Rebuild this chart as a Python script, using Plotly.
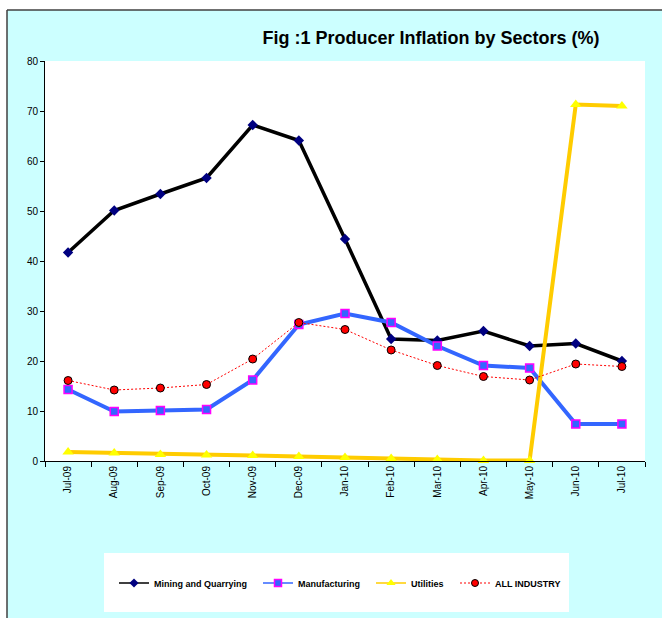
import plotly.graph_objects as go

months = ["Jul-09", "Aug-09", "Sep-09", "Oct-09", "Nov-09", "Dec-09", "Jan-10",
          "Feb-10", "Mar-10", "Apr-10", "May-10", "Jun-10", "Jul-10"]
mining = [41.7, 50.1, 53.4, 56.6, 67.2, 64.1, 44.4, 24.4, 24.1, 26.0, 23.0, 23.5, 20.0]
manufacturing = [14.3, 9.9, 10.1, 10.3, 16.2, 27.3, 29.5, 27.7, 23.0, 19.1, 18.6, 7.4, 7.4]
utilities = [1.8, 1.6, 1.3, 1.2, 1.1, 0.9, 0.7, 0.5, 0.3, 0.1, 0.1, 71.3, 71.0]
all_industry = [16.1, 14.2, 14.6, 15.3, 20.4, 27.7, 26.3, 22.2, 19.1, 16.9, 16.2, 19.4, 18.9]
series_names = ["Mining and Quarrying", "Manufacturing", "Utilities", "ALL INDUSTRY"]
y_ticks = [0, 10, 20, 30, 40, 50, 60, 70, 80]

W, H = 662, 618
L, R, T, B = 45, 17, 61, 157
PW, PH = W - L - R, H - T - B


def px(x):
    return (x - L) / PW


def py(y):
    return (T + PH - y) / PH


styles = [
    dict(line=dict(color="#000000", width=3.5),
         marker=dict(symbol="diamond", color="#000080", size=8, line=dict(width=0))),
    dict(line=dict(color="#3366FF", width=4),
         marker=dict(symbol="square", color="#3366FF", size=8, line=dict(color="#FF00FF", width=1.5))),
    dict(line=dict(color="#FFCC00", width=4),
         marker=dict(symbol="triangle-up", color="#FFFF00", size=10, line=dict(width=0))),
    dict(line=dict(color="#FF0000", width=1, dash="2px,2px"),
         marker=dict(symbol="circle", color="#FF0000", size=8, line=dict(color="#000000", width=1))),
]
legend_styles = [
    dict(line=dict(color="#000000", width=1.5),
         marker=dict(symbol="diamond", color="#000080", size=7, line=dict(width=0))),
    dict(line=dict(color="#3366FF", width=1.5),
         marker=dict(symbol="square", color="#3366FF", size=7, line=dict(color="#FF00FF", width=1.5))),
    dict(line=dict(color="#FFCC00", width=1.5),
         marker=dict(symbol="triangle-up", color="#FFFF00", size=8, line=dict(width=0))),
    dict(line=dict(color="#FF0000", width=1, dash="2px,2px"),
         marker=dict(symbol="circle", color="#FF0000", size=7, line=dict(color="#000000", width=1))),
]
series_values = [mining, manufacturing, utilities, all_industry]
legend_ids = ["legend", "legend2", "legend3", "legend4"]

fig = go.Figure()
for name, vals, st in zip(series_names, series_values, styles):
    fig.add_trace(go.Scatter(x=months, y=vals, name=name, mode="lines+markers",
                             showlegend=False, cliponaxis=False, **st))
for name, lid, st in zip(series_names, legend_ids, legend_styles):
    fig.add_trace(go.Scatter(x=[None], y=[None], name="<b>%s</b>" % name, mode="lines+markers",
                             showlegend=True, legend=lid, **st))

shapes = [
    dict(type="rect", xref="paper", yref="paper", x0=-1, x1=2, y0=py(10), y1=2,
         fillcolor="white", line=dict(width=0), layer="below"),
    dict(type="rect", xref="paper", yref="paper", x0=-1, x1=px(7), y0=-1, y1=2,
         fillcolor="white", line=dict(width=0), layer="below"),
    dict(type="line", xref="paper", yref="paper", x0=px(7), x1=px(7), y0=py(10), y1=py(H + 5),
         line=dict(color="#404040", width=1.5)),
    dict(type="line", xref="paper", yref="paper", x0=px(7), x1=px(W + 5), y0=py(10), y1=py(10),
         line=dict(color="#404040", width=1.5)),
    dict(type="rect", xref="paper", yref="paper", x0=px(104), x1=px(569), y0=py(612), y1=py(553),
         fillcolor="white", line=dict(width=0), layer="below"),
]


def leg(text_x):
    return dict(orientation="h", x=px(text_x - 40), xanchor="left", y=py(583), yanchor="middle",
                bgcolor="rgba(0,0,0,0)", font=dict(size=9, color="#000000"), itemwidth=30)


fig.update_layout(
    width=W, height=H,
    margin=dict(l=L, r=R, t=T, b=B),
    paper_bgcolor="#CCFFFF",
    plot_bgcolor="#FFFFFF",
    font=dict(family="Liberation Sans, Arial, sans-serif", color="#000000"),
    title=dict(text="<b>Fig :1 Producer Inflation by Sectors (%)</b>",
               font=dict(size=18, color="#000000", family="Liberation Sans, Arial, sans-serif"),
               x=px(431), xref="paper", xanchor="center",
               y=1 - 38 / H, yref="container", yanchor="middle"),
    showlegend=True,
    legend=leg(154), legend2=leg(298), legend3=leg(411), legend4=leg(495),
    shapes=shapes,
    xaxis=dict(type="category", categoryarray=months, showgrid=False, showline=True,
               linecolor="#000000", linewidth=1,
               ticks="outside", ticklen=5, tickcolor="#000000", tickson="boundaries",
               tickangle=-90, tickfont=dict(size=10, color="#000000"), zeroline=False,
               range=[-0.5, len(months) - 0.5], fixedrange=True),
    yaxis=dict(range=[0, 80], tickvals=y_ticks, showgrid=False, showline=True,
               linecolor="#000000", linewidth=1, ticks="outside", ticklen=4,
               tickcolor="#000000", tickfont=dict(size=10, color="#000000"),
               zeroline=False, fixedrange=True),
)

fig.write_html("out.html", config=dict(displayModeBar=False),
               post_script="document.body.style.margin='0';document.body.style.padding='0';")
